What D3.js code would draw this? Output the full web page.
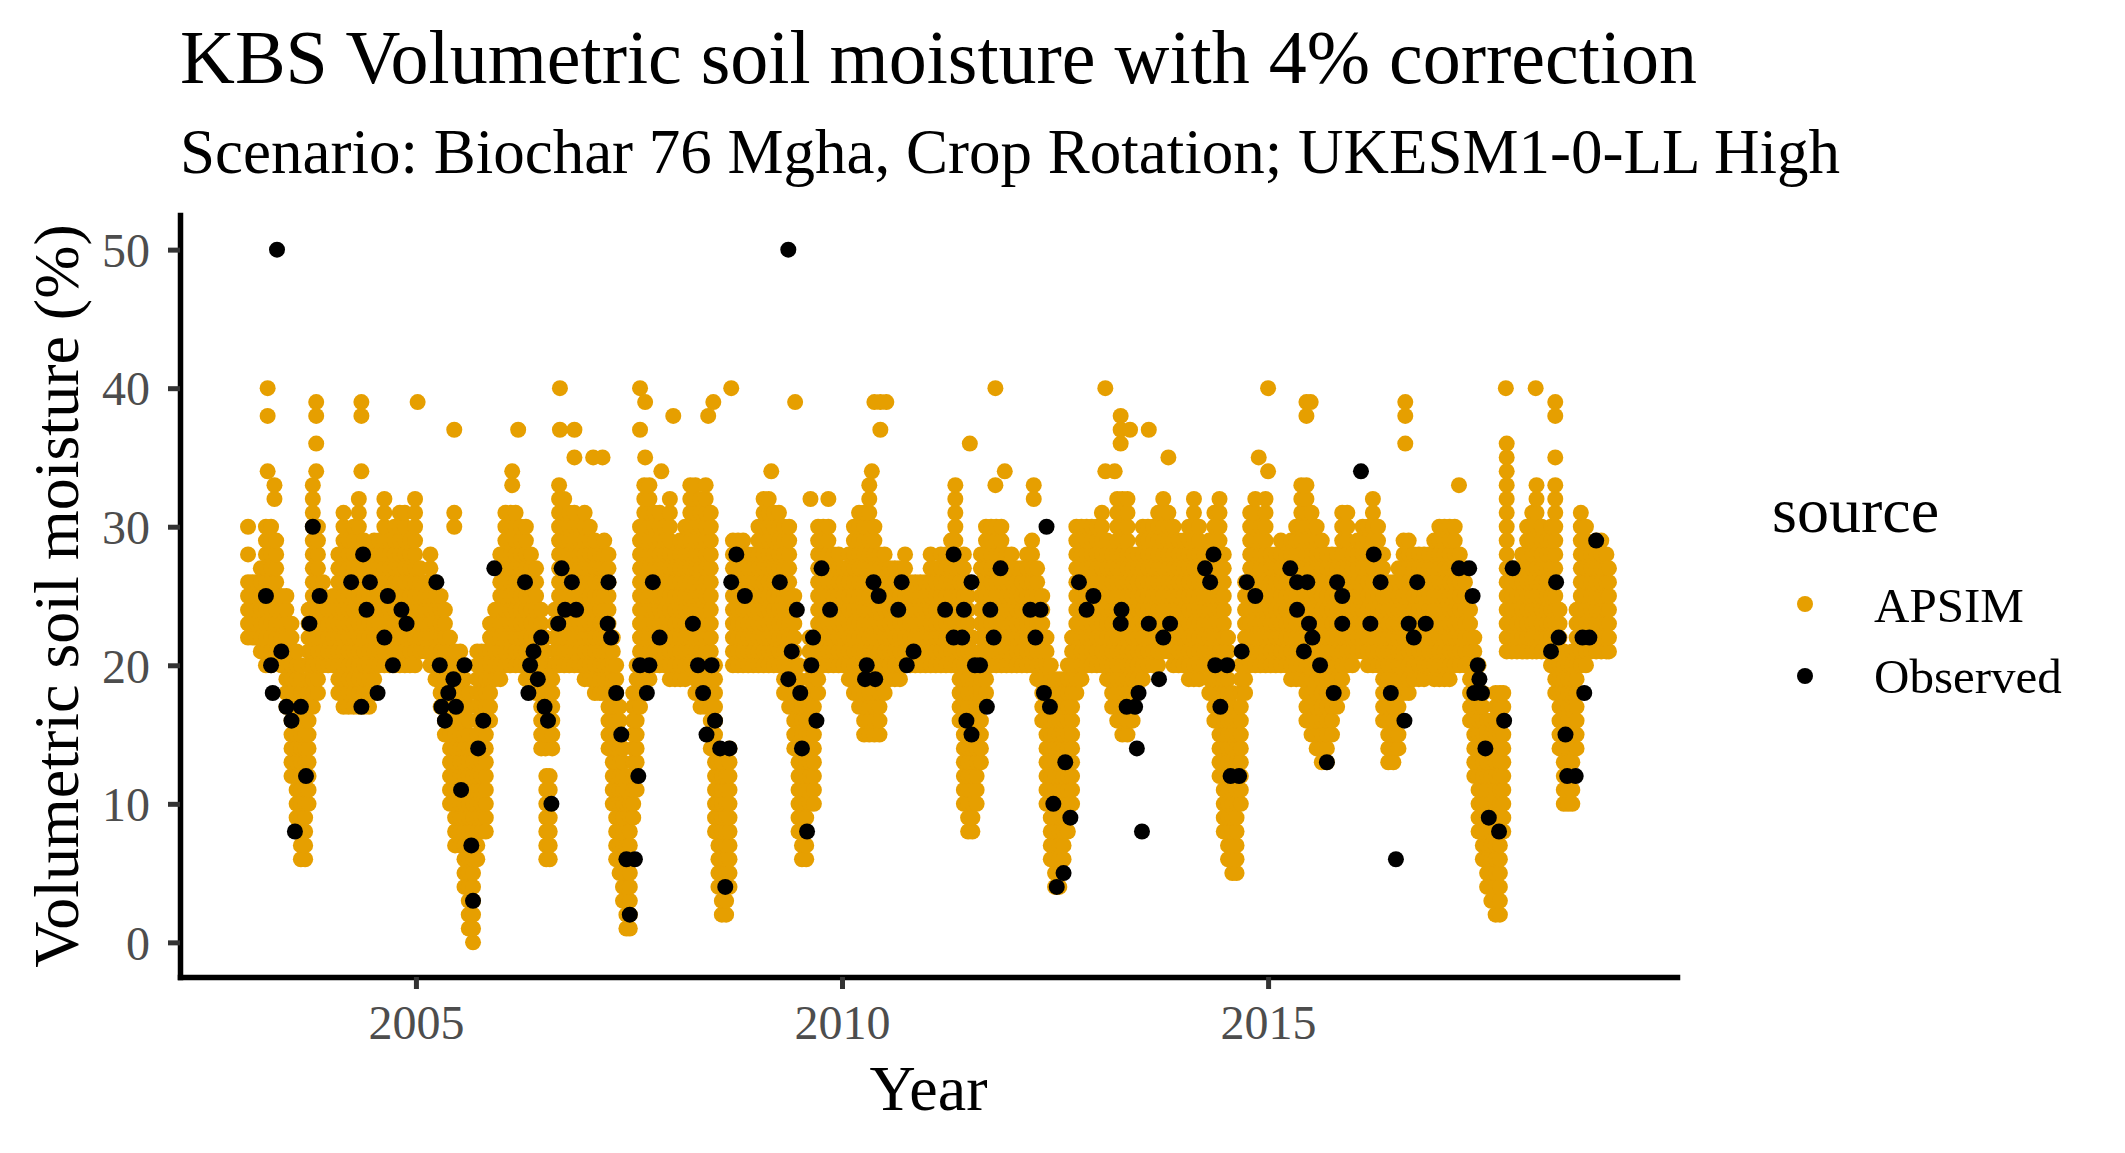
<!DOCTYPE html>
<html>
<head>
<meta charset="utf-8">
<script src="https://cdn.jsdelivr.net/npm/d3@7/dist/d3.min.js"></script>
<style>
  body { margin: 0; background: #fff; }
  text { font-family: "Liberation Serif", "Times New Roman", serif; }
</style>
</head>
<body>
<script>
const w = 2125;
const h = 1153;

// APSIM daily output, read off the picture as dense bands: [year, low, high]
// every integer value from low to high is present at that date
const apsimBands = [
  [2003.03, 22, 26], [2003.08, 22, 26], [2003.13, 22, 26], [2003.18, 21, 27],
  [2003.24, 20, 30], [2003.30, 20, 30], [2003.36, 21, 29], [2003.42, 20, 25],
  [2003.48, 17, 25], [2003.54, 12, 23], [2003.60, 8, 21], [2003.65, 6, 20],
  [2003.70, 6, 17], [2003.74, 10, 24], [2003.79, 17, 33], [2003.85, 18, 30],
  [2003.91, 20, 26], [2003.97, 20, 24],
  [2004.03, 20, 25], [2004.09, 18, 28], [2004.15, 17, 31], [2004.21, 17, 29],
  [2004.27, 17, 30], [2004.33, 17, 32], [2004.39, 17, 29], [2004.45, 17, 28],
  [2004.51, 18, 29], [2004.57, 20, 29], [2004.63, 20, 32], [2004.69, 20, 29],
  [2004.75, 20, 30], [2004.81, 20, 31], [2004.87, 20, 31], [2004.93, 20, 29],
  [2004.99, 20, 32],
  [2005.05, 21, 27], [2005.11, 21, 26], [2005.17, 20, 28], [2005.23, 19, 26],
  [2005.29, 17, 25], [2005.34, 15, 24], [2005.40, 10, 22], [2005.46, 7, 21],
  [2005.52, 7, 21], [2005.57, 4, 20], [2005.62, 1, 18], [2005.67, 0, 14],
  [2005.72, 6, 21], [2005.77, 8, 21], [2005.82, 8, 21], [2005.87, 16, 23],
  [2005.93, 19, 24], [2005.99, 19, 28],
  [2006.05, 20, 31], [2006.11, 20, 31], [2006.17, 20, 31], [2006.23, 20, 30],
  [2006.29, 19, 30], [2006.35, 19, 28], [2006.41, 18, 27], [2006.47, 14, 24],
  [2006.52, 14, 22], [2006.53, 6, 12], [2006.57, 6, 12], [2006.60, 14, 20],
  [2006.63, 20, 24], [2006.68, 20, 33], [2006.74, 20, 32], [2006.80, 20, 31],
  [2006.86, 20, 31], [2006.92, 20, 30], [2006.98, 19, 31],
  [2007.04, 19, 30], [2007.10, 18, 29], [2007.16, 18, 28], [2007.21, 18, 29],
  [2007.26, 14, 28], [2007.31, 10, 22], [2007.35, 6, 20], [2007.39, 5, 17],
  [2007.43, 3, 14], [2007.47, 1, 12], [2007.51, 1, 10], [2007.55, 9, 18],
  [2007.59, 11, 20], [2007.63, 17, 30], [2007.68, 18, 33], [2007.74, 19, 33],
  [2007.80, 20, 31], [2007.86, 20, 31], [2007.92, 20, 30], [2007.98, 19, 32],
  [2008.04, 19, 28], [2008.10, 19, 29], [2008.16, 19, 30], [2008.22, 20, 33],
  [2008.28, 18, 33], [2008.34, 17, 32], [2008.40, 17, 33], [2008.46, 14, 31],
  [2008.51, 8, 20], [2008.55, 4, 14], [2008.59, 2, 13], [2008.64, 2, 12],
  [2008.68, 4, 14], [2008.72, 20, 29], [2008.78, 20, 29], [2008.84, 20, 29],
  [2008.90, 20, 28], [2008.96, 20, 28],
  [2009.02, 20, 30], [2009.08, 20, 32], [2009.14, 20, 32], [2009.20, 20, 31],
  [2009.26, 20, 31], [2009.32, 18, 30], [2009.38, 17, 30], [2009.44, 14, 25],
  [2009.49, 8, 20], [2009.53, 6, 18], [2009.58, 6, 17], [2009.62, 10, 22],
  [2009.67, 10, 22], [2009.72, 18, 30], [2009.78, 20, 30], [2009.84, 20, 30],
  [2009.90, 20, 28], [2009.96, 20, 28],
  [2010.02, 20, 27], [2010.08, 19, 28], [2010.14, 18, 30], [2010.20, 17, 31],
  [2010.26, 15, 31], [2010.32, 15, 33], [2010.38, 15, 30], [2010.44, 15, 28],
  [2010.50, 18, 28], [2010.56, 19, 27], [2010.62, 19, 27], [2010.68, 19, 27],
  [2010.74, 20, 28], [2010.80, 20, 26], [2010.86, 20, 26], [2010.92, 20, 26],
  [2010.98, 20, 26],
  [2011.04, 20, 28], [2011.10, 20, 27], [2011.16, 20, 28], [2011.22, 20, 28],
  [2011.28, 20, 29], [2011.33, 20, 33], [2011.38, 16, 27], [2011.43, 10, 28],
  [2011.48, 8, 26], [2011.53, 8, 22], [2011.58, 10, 20], [2011.63, 13, 28],
  [2011.69, 18, 30], [2011.75, 20, 30], [2011.81, 20, 30], [2011.87, 20, 30],
  [2011.93, 20, 28], [2011.99, 20, 28],
  [2012.05, 20, 27], [2012.11, 20, 27], [2012.17, 20, 28], [2012.23, 20, 29],
  [2012.29, 19, 27], [2012.35, 16, 25], [2012.40, 10, 22], [2012.45, 6, 20],
  [2012.50, 4, 19], [2012.55, 4, 19], [2012.60, 6, 19], [2012.65, 8, 20],
  [2012.70, 10, 22], [2012.75, 18, 30], [2012.81, 19, 30], [2012.87, 20, 30],
  [2012.93, 20, 30], [2012.99, 20, 30],
  [2013.05, 20, 31], [2013.11, 19, 29], [2013.17, 17, 28], [2013.23, 16, 32],
  [2013.29, 15, 32], [2013.35, 15, 32], [2013.41, 16, 28], [2013.47, 18, 28],
  [2013.53, 19, 30], [2013.59, 20, 30], [2013.65, 20, 30], [2013.71, 20, 31],
  [2013.77, 21, 32], [2013.83, 21, 31], [2013.89, 20, 30], [2013.95, 20, 29],
  [2014.01, 20, 29], [2014.07, 19, 30], [2014.13, 19, 32], [2014.19, 19, 30],
  [2014.25, 20, 28], [2014.31, 18, 29], [2014.37, 16, 31], [2014.43, 12, 32],
  [2014.48, 8, 28], [2014.53, 6, 22], [2014.58, 5, 18], [2014.63, 5, 16],
  [2014.68, 10, 20], [2014.73, 18, 26], [2014.79, 20, 31], [2014.85, 20, 32],
  [2014.91, 20, 30], [2014.97, 20, 32],
  [2015.03, 20, 28], [2015.09, 20, 28], [2015.15, 20, 29], [2015.21, 20, 28],
  [2015.27, 19, 29], [2015.33, 19, 30], [2015.39, 19, 33], [2015.45, 16, 33],
  [2015.51, 15, 31], [2015.57, 14, 30], [2015.63, 13, 29], [2015.69, 13, 28],
  [2015.75, 15, 28], [2015.81, 17, 28], [2015.87, 18, 31], [2015.93, 20, 31],
  [2015.99, 20, 28],
  [2016.05, 21, 29], [2016.11, 21, 30], [2016.17, 20, 30], [2016.23, 20, 32],
  [2016.29, 20, 30], [2016.35, 16, 28], [2016.41, 13, 26], [2016.47, 13, 26],
  [2016.53, 14, 27], [2016.59, 18, 29], [2016.65, 18, 29], [2016.71, 19, 28],
  [2016.77, 19, 28], [2016.83, 19, 28], [2016.89, 20, 28], [2016.95, 19, 29],
  [2017.01, 19, 30], [2017.07, 19, 30], [2017.13, 19, 30], [2017.19, 20, 30],
  [2017.25, 20, 28], [2017.31, 20, 27], [2017.37, 16, 24], [2017.42, 12, 22],
  [2017.47, 8, 20], [2017.52, 6, 18], [2017.57, 4, 16], [2017.62, 3, 16],
  [2017.67, 2, 18], [2017.72, 2, 18], [2017.76, 8, 18], [2017.80, 21, 36],
  [2017.86, 21, 27], [2017.92, 21, 27], [2017.98, 21, 28],
  [2018.04, 21, 30], [2018.10, 21, 31], [2018.15, 21, 33], [2018.21, 21, 30],
  [2018.27, 21, 29], [2018.32, 20, 30], [2018.37, 18, 33], [2018.42, 14, 24],
  [2018.47, 10, 21], [2018.52, 10, 20], [2018.57, 10, 21], [2018.62, 14, 24],
  [2018.67, 20, 31], [2018.73, 20, 30], [2018.79, 21, 28], [2018.85, 21, 29],
  [2018.91, 21, 29], [2018.97, 21, 28], [2019.00, 21, 27]
];

// isolated APSIM values above the bands
const apsimSpikeDates = [
  2003.03, 2003.03, 2003.26, 2003.26, 2003.26, 2003.34, 2003.34,
  2003.83, 2003.83, 2003.83, 2003.83, 2004.36, 2004.36, 2004.36, 2005.02,
  2005.45, 2005.45, 2005.45, 2006.13, 2006.13, 2006.20, 2006.69, 2006.69,
  2006.86, 2006.86, 2007.08, 2007.19, 2007.63, 2007.63, 2007.69, 2007.69,
  2007.88, 2008.02, 2008.43, 2008.49, 2008.70, 2009.17, 2009.45, 2009.63,
  2009.84, 2010.35, 2010.38, 2010.45, 2010.45, 2010.52, 2011.50, 2011.80,
  2011.80, 2011.91, 2012.25, 2012.25, 2013.09, 2013.09, 2013.20, 2013.27,
  2013.27, 2013.27, 2013.38, 2013.60, 2013.83, 2014.89, 2015.00, 2015.00,
  2015.45, 2015.45, 2015.50, 2016.61, 2016.61, 2016.61, 2017.24, 2017.79,
  2018.14, 2018.37, 2018.37, 2018.37
];
const apsimSpikeValues = [
  28, 30, 40, 38, 34, 33, 32,
  39, 38, 36, 34, 39, 38, 34, 39,
  37, 31, 30, 34, 33, 37, 40, 37,
  37, 35, 35, 35, 40, 37, 39, 35,
  34, 38, 38, 39, 40, 34, 39, 32,
  32, 34, 39, 39, 37, 39, 36, 40,
  33, 34, 33, 32, 40, 34, 34, 38,
  37, 36, 37, 37, 35, 35, 40, 34,
  39, 38, 39, 39, 38, 36, 33, 40,
  40, 39, 38, 35
];

// observed soil moisture
const obsDates = [
  2003.37, 2003.24, 2003.30, 2003.32, 2003.42, 2003.48, 2003.54, 2003.58, 2003.65, 2003.71,
  2003.75, 2003.79, 2003.87, 2004.24, 2004.36, 2004.38, 2004.42, 2004.46, 2004.55, 2004.63,
  2004.67, 2004.73, 2004.83, 2004.89, 2005.24, 2005.28, 2005.30, 2005.34, 2005.38, 2005.44,
  2005.47, 2005.53, 2005.57, 2005.65, 2005.67, 2005.73, 2005.79, 2005.92, 2006.28, 2006.32,
  2006.34, 2006.38, 2006.43, 2006.47, 2006.51, 2006.55, 2006.59, 2006.67, 2006.71, 2006.75,
  2006.83, 2006.88, 2007.26, 2007.25, 2007.29, 2007.35, 2007.41, 2007.47, 2007.51, 2007.57,
  2007.61, 2007.63, 2007.71, 2007.74, 2007.78, 2007.86, 2008.25, 2008.31, 2008.37, 2008.41,
  2008.47, 2008.51, 2008.57, 2008.63, 2008.68, 2008.70, 2008.76, 2008.86, 2009.27, 2009.37,
  2009.41, 2009.37, 2009.47, 2009.51, 2009.53, 2009.59, 2009.64, 2009.66, 2009.70, 2009.76,
  2009.86, 2010.27, 2010.29, 2010.37, 2010.39, 2010.43, 2010.66, 2010.70, 2010.76, 2010.84,
  2011.21, 2011.31, 2011.31, 2011.41, 2011.43, 2011.46, 2011.52, 2011.52, 2011.56, 2011.62,
  2011.70, 2011.74, 2011.78, 2011.86, 2012.21, 2012.27, 2012.33, 2012.37, 2012.40, 2012.44,
  2012.48, 2012.52, 2012.60, 2012.62, 2012.68, 2012.78, 2012.87, 2012.95, 2013.27, 2013.28,
  2013.34, 2013.44, 2013.46, 2013.48, 2013.52, 2013.60, 2013.72, 2013.77, 2013.85, 2014.26,
  2014.32, 2014.36, 2014.38, 2014.44, 2014.52, 2014.56, 2014.66, 2014.69, 2014.75, 2014.85,
  2015.26, 2015.34, 2015.34, 2015.42, 2015.46, 2015.48, 2015.52, 2015.61, 2015.69, 2015.77,
  2015.81, 2015.87, 2015.87, 2016.09, 2016.20, 2016.24, 2016.32, 2016.44, 2016.50, 2016.60,
  2016.65, 2016.71, 2016.75, 2016.85, 2017.24, 2017.36, 2017.40, 2017.42, 2017.46, 2017.48,
  2017.51, 2017.55, 2017.59, 2017.71, 2017.77, 2017.87, 2018.32, 2018.38, 2018.41, 2018.49,
  2018.51, 2018.61, 2018.69, 2018.71, 2018.77, 2018.85
];
const obsValues = [
  50, 25, 20, 18, 21, 17, 16, 8, 17, 12,
  23, 30, 25, 26, 17, 28, 24, 26, 18, 22,
  25, 20, 24, 23, 26, 20, 17, 16, 18, 19,
  17, 11, 20, 7, 3, 14, 16, 27, 26, 18,
  20, 21, 19, 22, 17, 16, 10, 23, 27, 24,
  26, 24, 26, 23, 22, 18, 15, 6, 2, 6,
  12, 20, 18, 20, 26, 22, 23, 20, 18, 15,
  20, 16, 14, 4, 14, 26, 28, 25, 26, 19,
  21, 50, 24, 18, 14, 8, 20, 22, 16, 27,
  24, 19, 20, 26, 19, 25, 24, 26, 20, 21,
  24, 28, 22, 22, 24, 16, 15, 26, 20, 20,
  17, 24, 22, 27, 24, 22, 24, 18, 30, 17,
  10, 4, 5, 13, 9, 26, 24, 25, 23, 24,
  17, 17, 14, 18, 8, 23, 19, 22, 23, 27,
  26, 28, 20, 17, 20, 12, 12, 21, 26, 25,
  27, 26, 24, 21, 26, 23, 22, 20, 13, 18,
  26, 25, 23, 34, 23, 28, 26, 18, 6, 16,
  23, 22, 26, 23, 27, 27, 25, 18, 20, 19,
  18, 14, 9, 8, 16, 27, 21, 26, 22, 15,
  12, 12, 22, 18, 22, 29
];

const sources = ["APSIM", "Observed"];
const colors = ["#E69F00", "#000000"];
const yTicks = [0, 10, 20, 30, 40, 50];
const xTicks = [2005, 2010, 2015];

// expand the band rows into individual points
let apsim = [];
apsimBands.forEach(([d, lo, hi]) => {
  for (let v = lo; v <= hi; v++) apsim.push({ date: d, value: v });
});
apsimSpikeDates.forEach((d, i) => apsim.push({ date: d, value: apsimSpikeValues[i] }));
const observed = obsDates.map((d, i) => ({ date: d, value: obsValues[i] }));

const panel = { left: 180, right: 1677, top: 215, bottom: 977 };
const pointR = 8;

const allDates = apsim.map((d) => d.date).concat(obsDates);
const allVals = apsim.map((d) => d.value).concat(obsValues);
let [minX, maxX] = d3.extent(allDates);
let [minY, maxY] = d3.extent(allVals);
const padX = (maxX - minX) * 0.05;
const padY = (maxY - minY) * 0.05;

const xScale = d3.scaleLinear()
  .domain([minX - padX, maxX + padX])
  .range([panel.left, panel.right]);
const yScale = d3.scaleLinear()
  .domain([minY - padY, maxY + padY])
  .range([panel.bottom, panel.top]);
const color = d3.scaleOrdinal().domain(sources).range(colors);

let svg = d3.select("body").append("svg").attr("width", w).attr("height", h);

// points
svg.append("g")
  .selectAll("circle")
  .data(apsim)
  .join("circle")
  .attr("cx", (d) => xScale(d.date))
  .attr("cy", (d) => yScale(d.value))
  .attr("r", pointR)
  .attr("fill", color("APSIM"));

svg.append("g")
  .selectAll("circle")
  .data(observed)
  .join("circle")
  .attr("cx", (d) => xScale(d.date))
  .attr("cy", (d) => yScale(d.value))
  .attr("r", pointR)
  .attr("fill", color("Observed"));

/* axes */
const xAxis = d3.axisBottom(xScale).tickValues(xTicks).tickFormat(d3.format("d"))
  .tickSizeInner(12).tickSizeOuter(0);
const yAxis = d3.axisLeft(yScale).tickValues(yTicks).tickSizeInner(12).tickSizeOuter(0);

const gx = svg.append("g")
  .attr("transform", `translate(0, ${panel.bottom})`)
  .call(xAxis);
const gy = svg.append("g")
  .attr("transform", `translate(${panel.left}, 0)`)
  .call(yAxis);

[gx, gy].forEach((g) => {
  g.select(".domain").attr("stroke", "#000").attr("stroke-width", 5.5)
    .attr("stroke-linecap", "square");
  g.selectAll(".tick line").attr("stroke", "#333333").attr("stroke-width", 5);
  g.selectAll(".tick text")
    .attr("fill", "#4D4D4D")
    .style("font-family", '"Liberation Serif", serif')
    .style("font-size", "48px");
});
gx.selectAll(".tick text").attr("y", 62).attr("dy", 0);
gy.selectAll(".tick text").attr("x", -30).attr("dy", "0.35em");

// axis titles
svg.append("text")
  .attr("x", (panel.left + panel.right) / 2)
  .attr("y", 1110)
  .attr("text-anchor", "middle")
  .style("font-size", "64px")
  .text("Year");

svg.append("text")
  .attr("transform", `translate(78, ${(panel.top + panel.bottom) / 2}) rotate(-90)`)
  .attr("text-anchor", "middle")
  .style("font-size", "64px")
  .text("Volumetric soil moisture (%)");

// titles
svg.append("text")
  .attr("x", panel.left)
  .attr("y", 83)
  .style("font-size", "76px")
  .text("KBS Volumetric soil moisture with 4% correction");

svg.append("text")
  .attr("x", panel.left)
  .attr("y", 173)
  .style("font-size", "63px")
  .text("Scenario: Biochar 76 Mgha, Crop Rotation; UKESM1-0-LL High");

// legend
const legend = svg.append("g");
legend.append("text")
  .attr("x", 1772)
  .attr("y", 532)
  .style("font-size", "64px")
  .text("source");

sources.forEach((s, i) => {
  legend.append("circle")
    .attr("cx", 1805)
    .attr("cy", 604 + i * 72)
    .attr("r", pointR)
    .attr("fill", color(s));
  legend.append("text")
    .attr("x", 1874)
    .attr("y", 622 + i * 71)
    .style("font-size", "49px")
    .text(s);
});
</script>
</body>
</html>
